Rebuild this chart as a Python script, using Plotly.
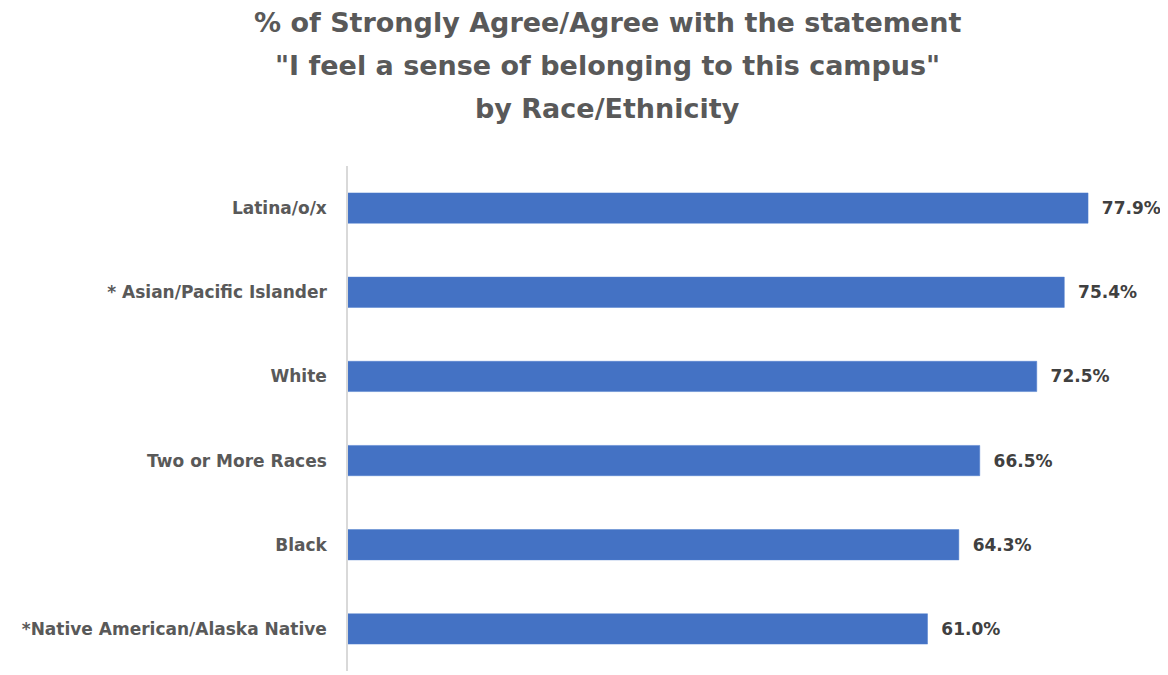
import plotly.graph_objects as go

categories = ["Latina/o/x", "* Asian/Pacific Islander", "White", "Two or More Races",
              "Black", "*Native American/Alaska Native"]
values = [77.9, 75.4, 72.5, 66.5, 64.3, 61.0]
title_lines = ["% of Strongly Agree/Agree with the statement",
               "\"I feel a sense of belonging to this campus\"",
               "by Race/Ethnicity"]

W, H = 1168, 675
OFF = 8  # page body margin
ml, mr, mt, mb = 348 - OFF, 60 + OFF, 166 - OFF, 4 + OFF
plot_w = W - ml - mr
plot_h = H - mt - mb

FONT = "DejaVu Sans"

fig = go.Figure(go.Bar(
    x=values, y=categories, orientation="h",
    marker=dict(color="#4472C4", line=dict(color="#4F7FCF", width=0.5)),
    text=[f"{v:.1f}%" for v in values],
    texttemplate="  <b>%{text}</b>",
    textposition="outside", cliponaxis=False,
    textfont=dict(family=FONT, size=17, color="#404040"),
    hoverinfo="skip",
))

title_centers_px = [23, 65, 109]
title_x = (607 - OFF - ml) / plot_w
for line, cy in zip(title_lines, title_centers_px):
    fig.add_annotation(
        text=f"<b>{line}</b>", xref="paper", yref="paper",
        x=title_x, y=(H - mb - (cy - OFF)) / plot_h, xanchor="center", yanchor="middle",
        showarrow=False, borderpad=0,
        font=dict(family=FONT, size=27, color="#595959"),
    )

fig.update_layout(
    width=W, height=H,
    margin=dict(l=ml, r=mr, t=mt, b=mb, autoexpand=False),
    paper_bgcolor="white", plot_bgcolor="white",
    bargap=0.64, showlegend=False,
    xaxis=dict(range=[0, 80], visible=False, fixedrange=True),
    yaxis=dict(autorange="reversed", showline=True, linecolor="#D9D9D9", linewidth=1.5,
               ticks="", showgrid=False, ticklabelstandoff=16,
               tickfont=dict(family=FONT, size=17, color="#595959"),
               tickprefix="<b>", ticksuffix="</b>", fixedrange=True),
)

fig.write_html("out.html")
